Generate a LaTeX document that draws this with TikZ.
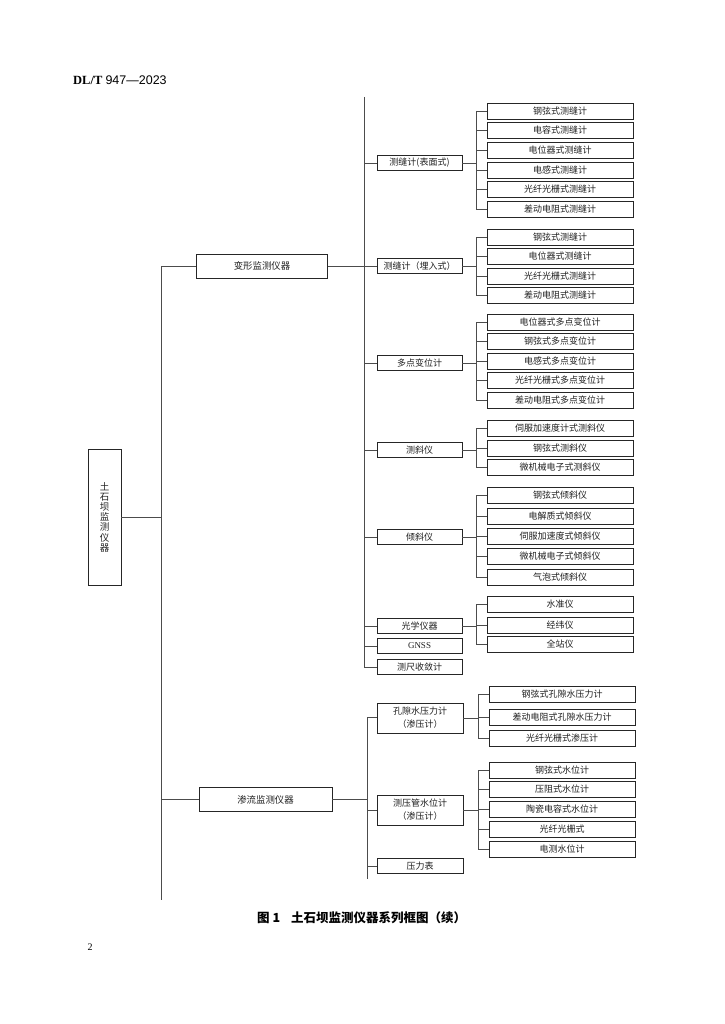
\documentclass[tikz,border=0pt]{standalone}
\usepackage{fontspec}
\setmainfont{Liberation Serif}
\newfontfamily\cjk{Noto Sans CJK SC}
\newfontfamily\arialf{Liberation Sans}
\begin{document}
\begin{tikzpicture}[x=1pt,y=-1pt,
  box/.style={draw=black!85, line width=0.8pt, inner sep=0pt, align=center,
    font=\cjk\fontsize{9}{11}\selectfont, text=black!88},
  leaf/.style={box, minimum width=146pt, minimum height=16pt},
  midb/.style={box, minimum width=85pt, minimum height=15pt},
  topb/.style={box, minimum width=131pt, minimum height=24pt, font=\cjk\fontsize{9.4}{11}\selectfont},
  conn/.style={draw=black!70, line width=0.6pt}]
\useasboundingbox (0,0) rectangle (724,1024);

% header, page number, caption
\node[anchor=west, inner sep=0pt, font=\fontsize{12.5}{14}\selectfont] (hdr) at (73,80)
  {\textbf{DL/T}\ {\arialf 947—2023}};
\node[inner sep=0pt, font=\fontsize{10}{12}\selectfont] (pg) at (90,947) {2};
\node[anchor=west, inner sep=0pt, font=\cjk\bfseries\fontsize{12.5}{14}\selectfont] (cap) at (257,918)
  {图 1\hspace{11pt}土石坝监测仪器系列框图（续）};

% root
\node[box, minimum width=33pt, minimum height=136pt, font=\cjk\fontsize{9.5}{10.2}\selectfont] (root) at (104.5,517)
  {土\\石\\坝\\监\\测\\仪\\器};

% level 1
\node[topb] (bx) at (262,266) {变形监测仪器};
\node[topb, minimum width=133pt] (sl) at (265.5,799.5) {渗流监测仪器};

% level 2 (deformation)
\node[midb] (A) at (419.5,163) {测缝计(表面式)};
\node[midb] (B) at (419.5,266) {测缝计（埋入式）};
\node[midb] (C) at (419.5,363) {多点变位计};
\node[midb] (D) at (419.5,450) {测斜仪};
\node[midb] (E) at (419.5,537) {倾斜仪};
\node[midb] (F) at (419.5,626) {光学仪器};
\node[midb, font=\fontsize{9}{11}\selectfont] (G) at (419.5,646) {GNSS};
\node[midb] (H) at (419.5,667) {测尺收敛计};

% level 2 (seepage)
\node[midb, minimum width=86pt, minimum height=30pt, font=\cjk\fontsize{9}{13}\selectfont] (K) at (420,718) {孔隙水压力计\\（渗压计）};
\node[midb, minimum width=86pt, minimum height=30pt, font=\cjk\fontsize{9}{13}\selectfont] (M) at (420,810) {测压管水位计\\（渗压计）};
\node[midb, minimum width=86pt] (P) at (420,866) {压力表};

% leaves
\foreach \y/\t [count=\i] in {111/钢弦式测缝计,130/电容式测缝计,150/电位器式测缝计,170/电感式测缝计,189/光纤光栅式测缝计,209/差动电阻式测缝计}
  \node[leaf] (a\i) at (560,\y) {\t};
\foreach \y/\t [count=\i] in {237/钢弦式测缝计,256/电位器式测缝计,276/光纤光栅式测缝计,295/差动电阻式测缝计}
  \node[leaf] (b\i) at (560,\y) {\t};
\foreach \y/\t [count=\i] in {322/电位器式多点变位计,341/钢弦式多点变位计,361/电感式多点变位计,380/光纤光栅式多点变位计,400/差动电阻式多点变位计}
  \node[leaf] (c\i) at (560,\y) {\t};
\foreach \y/\t [count=\i] in {428/伺服加速度计式测斜仪,448/钢弦式测斜仪,467/微机械电子式测斜仪}
  \node[leaf] (d\i) at (560,\y) {\t};
\foreach \y/\t [count=\i] in {495/钢弦式倾斜仪,516/电解质式倾斜仪,536/伺服加速度式倾斜仪,556/微机械电子式倾斜仪,577/气泡式倾斜仪}
  \node[leaf] (e\i) at (560,\y) {\t};
\foreach \y/\t [count=\i] in {604/水准仪,625/经纬仪,644/全站仪}
  \node[leaf] (f\i) at (560,\y) {\t};
\foreach \y/\t [count=\i] in {694/钢弦式孔隙水压力计,717/差动电阻式孔隙水压力计,738/光纤光栅式渗压计}
  \node[leaf] (k\i) at (562,\y) {\t};
\foreach \y/\t [count=\i] in {770/钢弦式水位计,789/压阻式水位计,809/陶瓷电容式水位计,829/光纤光栅式,849/电测水位计}
  \node[leaf] (m\i) at (562,\y) {\t};

% main trunk
\coordinate (mv) at (161,266);
\coordinate (mvb) at (161,900);
\draw[conn] (mv) -- (mvb);
\draw[conn] (root.east) -- (root.east -| mv);
\draw[conn] (bx.west) -- (bx.west -| mv);
\draw[conn] (sl.west) -- (sl.west -| mv);

% deformation trunk
\coordinate (v1) at (364,97);
\draw[conn] (v1) -- (v1 |- H.west) -- (H.west);
\draw[conn] (bx.east) -- (bx.east -| v1);
\foreach \n in {A,B,C,D,E,F,G}
  \draw[conn] (\n.west -| v1) -- (\n.west);

% seepage trunk
\coordinate (v2) at (367,717);
\coordinate (v2b) at (367,879);
\draw[conn] (v2) -- (v2b);
\draw[conn] (sl.east) -- (sl.east -| v2);
\draw[conn] (v2) -- (v2 -| K.west);
\foreach \n in {M,P}
  \draw[conn] (\n.west -| v2) -- (\n.west);

% brackets
\coordinate (j1) at (476,0);
\coordinate (j2) at (478,0);
\foreach \p/\l/\n in {A/a/6,B/b/4,C/c/5,D/d/3,E/e/5,F/f/3}{
  \draw[conn] (\p.east) -- (\p.east -| j1);
  \draw[conn] (\l1.west -| j1) -- (\l\n.west -| j1);
  \foreach \i in {1,...,\n}
    \draw[conn] (\l\i.west -| j1) -- (\l\i.west);
}
\foreach \p/\l/\n in {K/k/3,M/m/5}{
  \draw[conn] (\p.east) -- (\p.east -| j2);
  \draw[conn] (\l1.west -| j2) -- (\l\n.west -| j2);
  \foreach \i in {1,...,\n}
    \draw[conn] (\l\i.west -| j2) -- (\l\i.west);
}
\end{tikzpicture}
\end{document}
